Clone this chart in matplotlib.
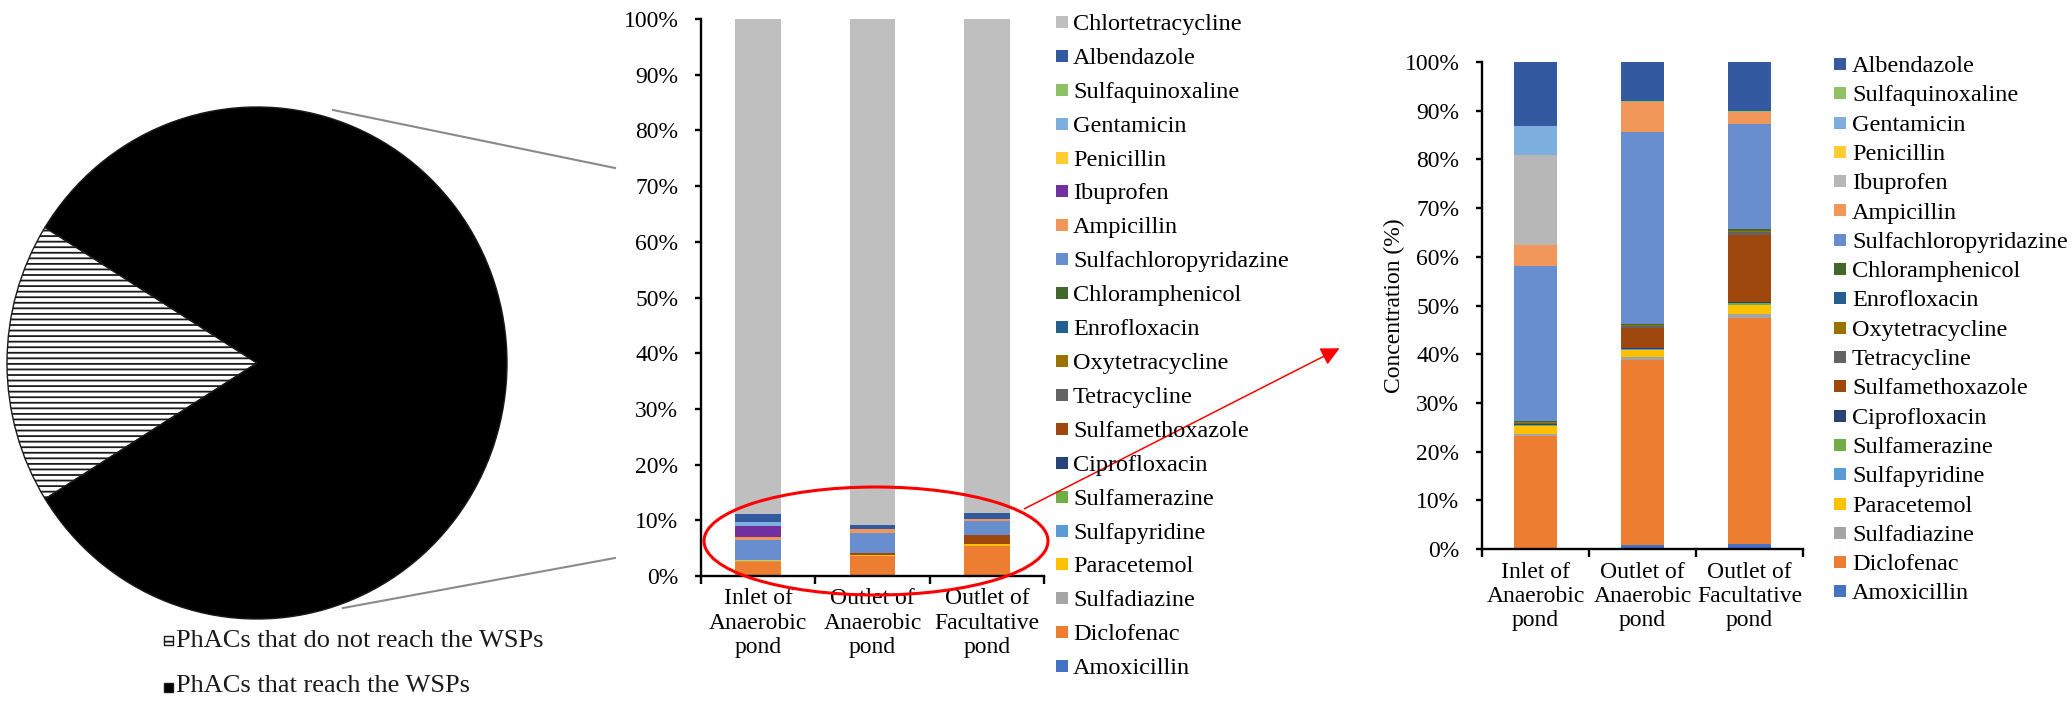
import numpy as np
import matplotlib
matplotlib.use('Agg')
import matplotlib.pyplot as plt
from matplotlib.patches import Rectangle, Ellipse, FancyArrowPatch
from matplotlib.lines import Line2D
from matplotlib.ticker import PercentFormatter, FixedLocator

plt.rcParams['font.family'] = ['Liberation Serif', 'DejaVu Serif']
plt.rcParams['hatch.linewidth'] = 1.3

# ---- data ----
pie_labels = ['PhACs that do not reach the WSPs', 'PhACs that reach the WSPs']
pie_values = [17.8, 82.2]

sites = ['Inlet of\nAnaerobic\npond', 'Outlet of\nAnaerobic\npond', 'Outlet of\nFacultative\npond']

# stacking order, bottom -> top
compounds = ['Amoxicillin', 'Diclofenac', 'Sulfadiazine', 'Paracetemol', 'Sulfapyridine',
             'Sulfamerazine', 'Ciprofloxacin', 'Sulfamethoxazole', 'Tetracycline',
             'Oxytetracycline', 'Enrofloxacin', 'Chloramphenicol', 'Sulfachloropyridazine',
             'Ampicillin', 'Ibuprofen', 'Penicillin', 'Gentamicin', 'Sulfaquinoxaline',
             'Albendazole']

# share of each compound (%) without chlortetracycline, per site
inlet_anaerobic = [0.0, 23.3, 0.3, 1.6, 0.1, 0.2, 0.1, 0.1, 0.2, 0.1, 0.1, 0.2,
                   31.9, 4.2, 18.6, 0.0, 5.9, 0.0, 13.1]
outlet_anaerobic = [0.8, 38.1, 0.6, 1.4, 0.1, 0.1, 0.2, 4.1, 0.4, 0.1, 0.1, 0.3,
                    39.4, 6.1, 0.0, 0.0, 0.0, 0.2, 8.0]
outlet_facultative = [1.0, 46.4, 0.9, 1.8, 0.1, 0.3, 0.3, 13.7, 0.6, 0.2, 0.1, 0.4,
                      21.5, 2.5, 0.0, 0.0, 0.0, 0.2, 10.0]

# chlortetracycline share (%) of all PhACs per site
chlortetracycline = [88.9, 90.9, 88.7]

colors = ['#4472C4', '#ED7D31', '#A5A5A5', '#FFC000', '#5B9BD5', '#70AD47', '#264478',
          '#9E480E', '#636363', '#997300', '#255E91', '#43682B', '#698ED0', '#F1975A',
          '#B7B7B7', '#FFCD33', '#7CAFDD', '#8CC168', '#335AA1']
mid_colors = colors.copy()
mid_colors[compounds.index('Ibuprofen')] = '#7030A0'
chlor_color = '#BFBFBF'

site_data = np.array([inlet_anaerobic, outlet_anaerobic, outlet_facultative]).T  # compounds x sites

W, H = 2072, 701
fig = plt.figure(figsize=(W / 100, H / 100), dpi=100)
FS = 17


def px_axes(x0, y0, x1, y1):
    return fig.add_axes([x0 / W, 1 - y1 / H, (x1 - x0) / W, (y1 - y0) / H])


def style_bar_axes(ax):
    ax.set_ylim(0, 100)
    ax.set_xlim(-0.5, 2.5)
    ax.set_yticks(np.arange(0, 101, 10))
    ax.yaxis.set_major_formatter(PercentFormatter(decimals=0))
    ax.set_xticks(range(3))
    ax.set_xticklabels(sites, fontsize=FS, linespacing=1.2)
    ax.xaxis.set_minor_locator(FixedLocator([-0.5, 0.5, 1.5, 2.5]))
    ax.tick_params(axis='x', which='major', length=0, pad=9)
    ax.tick_params(axis='x', which='minor', length=5.8, width=1.7, direction='out')
    ax.tick_params(axis='y', length=4.3, width=1.7, pad=12, labelsize=FS)
    for s in ['top', 'right']:
        ax.spines[s].set_visible(False)
    for s in ['left', 'bottom']:
        ax.spines[s].set_linewidth(1.7)


def legend_rows(names, cols, x_marker, x_text, y0, pitch):
    for i, (n, c) in enumerate(zip(names, cols)):
        y = y0 + i * pitch
        fig.add_artist(Rectangle((x_marker / W, 1 - (y + 6) / H), 12 / W, 12 / H,
                                 transform=fig.transFigure, facecolor=c, edgecolor='none'))
        fig.text(x_text / W, 1 - (y + 8) / H, n, fontsize=17.5, va='baseline', ha='left')


# ---- pie ----
ax_pie = px_axes(7, 107, 507, 619)
wedges, _ = ax_pie.pie(pie_values, startangle=148, colors=['white', 'black'],
                       wedgeprops=dict(edgecolor='#1a1a1a', linewidth=1))
wedges[0].set_hatch('---')
ax_pie.set_aspect('auto')
ax_pie.set_xlim(-1, 1)
ax_pie.set_ylim(-1, 1)
ax_pie.axis('off')

for i, (lab, y_mark, y_base) in enumerate(zip(pie_labels, [640, 687], [647, 692])):
    fig.add_artist(Rectangle((164 / W, 1 - (y_mark + 4.5) / H), 9 / W, 9 / H, transform=fig.transFigure,
                             facecolor='white' if i == 0 else 'black', edgecolor='#1a1a1a',
                             hatch='---' if i == 0 else None, linewidth=1))
    fig.text(176 / W, 1 - y_base / H, lab, fontsize=19, va='baseline', ha='left', color='#1a1a1a')

# connector lines
fig.add_artist(Line2D([333 / W, 615 / W], [1 - 110 / H, 1 - 168 / H], transform=fig.transFigure,
                      color='#8a8a8a', lw=1.5))
fig.add_artist(Line2D([343 / W, 615 / W], [1 - 608 / H, 1 - 558 / H], transform=fig.transFigure,
                      color='#8a8a8a', lw=1.5))

# ---- middle chart (with chlortetracycline) ----
ax_mid = px_axes(701, 19, 1044, 576)
x = np.arange(3)
bottom = np.zeros(3)
rest = 100 - np.array(chlortetracycline)
for name, vals, c in zip(compounds, site_data, mid_colors):
    seg = vals * rest / 100
    ax_mid.bar(x, seg, 0.4, bottom=bottom, color=c, linewidth=0)
    bottom += seg
ax_mid.bar(x, chlortetracycline, 0.4, bottom=bottom, color=chlor_color, linewidth=0)
style_bar_axes(ax_mid)

legend_rows(['Chlortetracycline'] + compounds[::-1], [chlor_color] + mid_colors[::-1],
            1056, 1073, 22, 33.9)

# red ellipse + arrow
fig.add_artist(Ellipse((876 / W, 1 - 541 / H), 344 / W, 108 / H, transform=fig.transFigure,
                       fill=False, edgecolor='red', linewidth=2.2))
fig.add_artist(FancyArrowPatch((1022 / W, 1 - 510 / H), (1342 / W, 1 - 347 / H),
                               transform=fig.transFigure, arrowstyle='-|>', mutation_scale=28,
                               color='red', lw=1.1))

# ---- right chart (without chlortetracycline) ----
ax_r = px_axes(1482, 62, 1803, 549)
bottom = np.zeros(3)
for name, vals, c in zip(compounds, site_data, colors):
    ax_r.bar(x, vals, 0.4, bottom=bottom, color=c, linewidth=0)
    bottom += vals
style_bar_axes(ax_r)
ax_r.set_ylabel('Concentration (%)', fontsize=FS)
ax_r.yaxis.set_label_coords(-0.24, 0.5)

legend_rows(compounds[::-1], colors[::-1], 1834, 1852, 64, 29.3)

fig.savefig('out.png', dpi=100)
